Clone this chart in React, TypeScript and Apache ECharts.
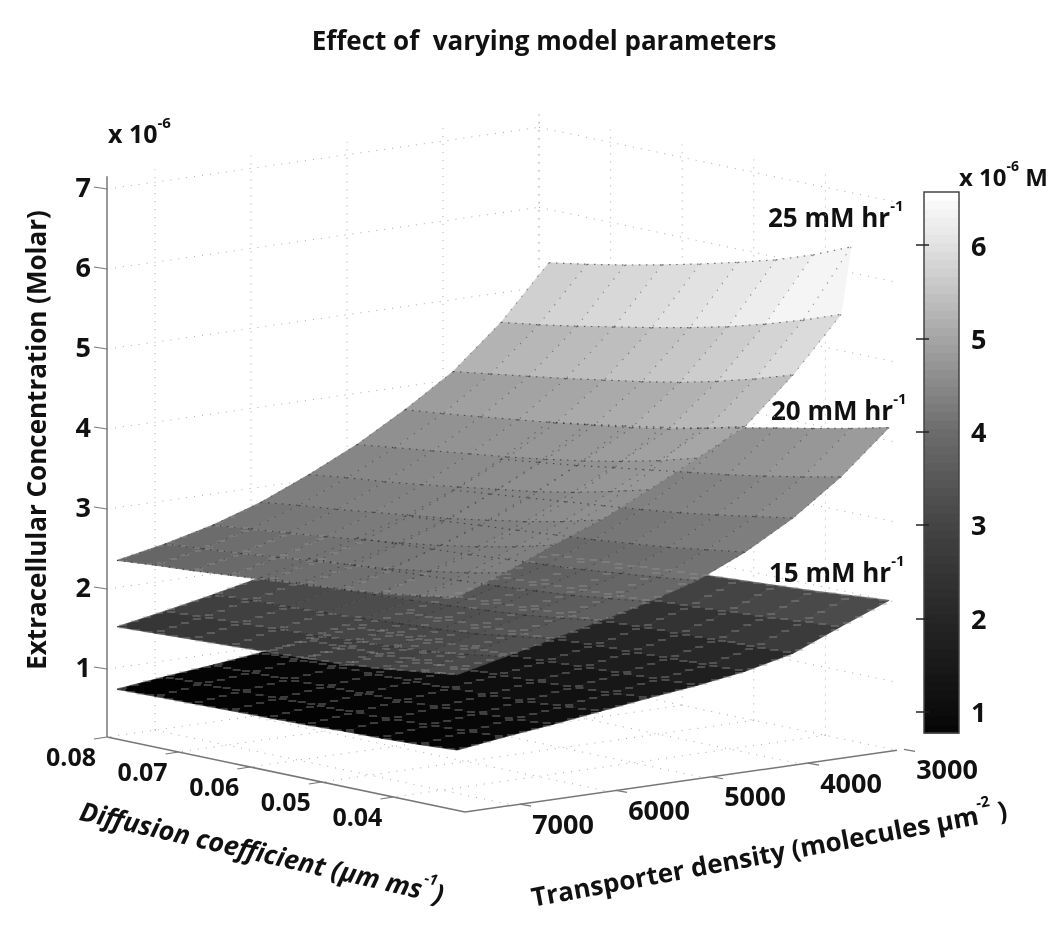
import React, { useEffect, useRef } from "react";
import * as echarts from "echarts";

// ---- data ----
const diffusionGrid = [0.08, 0.0747, 0.0694, 0.0642, 0.0589, 0.0536, 0.0483, 0.0431, 0.0378, 0.0325];
const transporterGrid = [3000, 3500, 4000, 4500, 5000, 5500, 6000, 6500, 7000, 7500];

const surface15 = [
  [1.65, 1.68, 1.71, 1.75, 1.79, 1.82, 1.85, 1.88, 1.92, 1.96],
  [1.45, 1.47, 1.49, 1.52, 1.55, 1.58, 1.61, 1.64, 1.68, 1.72],
  [1.3, 1.32, 1.34, 1.36, 1.38, 1.4, 1.42, 1.44, 1.45, 1.47],
  [1.18, 1.19, 1.21, 1.22, 1.24, 1.26, 1.28, 1.3, 1.31, 1.33],
  [1.08, 1.09, 1.1, 1.12, 1.13, 1.15, 1.17, 1.19, 1.22, 1.24],
  [1.0, 1.01, 1.02, 1.03, 1.05, 1.06, 1.08, 1.1, 1.13, 1.17],
  [0.93, 0.94, 0.95, 0.96, 0.97, 0.98, 1.0, 1.02, 1.05, 1.09],
  [0.86, 0.87, 0.88, 0.89, 0.9, 0.91, 0.93, 0.95, 0.98, 1.01],
  [0.8, 0.81, 0.82, 0.83, 0.84, 0.85, 0.87, 0.89, 0.91, 0.94],
  [0.73, 0.74, 0.75, 0.76, 0.77, 0.78, 0.8, 0.81, 0.83, 0.86],
];
const surface20 = [
  [3.3, 3.37, 3.45, 3.53, 3.62, 3.72, 3.82, 3.91, 4.01, 4.12],
  [2.92, 2.98, 3.04, 3.11, 3.18, 3.25, 3.32, 3.4, 3.49, 3.59],
  [2.62, 2.67, 2.72, 2.77, 2.82, 2.87, 2.93, 3.0, 3.08, 3.16],
  [2.38, 2.42, 2.46, 2.5, 2.54, 2.58, 2.63, 2.68, 2.75, 2.82],
  [2.19, 2.22, 2.25, 2.28, 2.32, 2.35, 2.39, 2.44, 2.49, 2.55],
  [2.02, 2.05, 2.08, 2.11, 2.14, 2.17, 2.21, 2.25, 2.31, 2.37],
  [1.87, 1.9, 1.93, 1.95, 1.98, 2.01, 2.05, 2.09, 2.15, 2.22],
  [1.74, 1.77, 1.79, 1.81, 1.84, 1.87, 1.9, 1.94, 2.01, 2.08],
  [1.62, 1.65, 1.67, 1.69, 1.71, 1.74, 1.77, 1.81, 1.87, 1.94],
  [1.51, 1.53, 1.55, 1.57, 1.59, 1.61, 1.64, 1.68, 1.74, 1.8],
];
const surface25 = [
  [5.29, 5.37, 5.46, 5.56, 5.67, 5.79, 5.92, 6.08, 6.28, null],
  [4.63, 4.7, 4.78, 4.87, 4.96, 5.06, 5.17, 5.3, 5.45, 5.62],
  [4.1, 4.17, 4.24, 4.31, 4.39, 4.47, 4.56, 4.67, 4.8, 4.95],
  [3.71, 3.76, 3.82, 3.88, 3.94, 4.01, 4.08, 4.16, 4.27, 4.39],
  [3.36, 3.42, 3.48, 3.54, 3.6, 3.67, 3.75, 3.84, 3.95, 4.08],
  [3.07, 3.13, 3.18, 3.24, 3.31, 3.38, 3.45, 3.54, 3.65, 3.77],
  [2.81, 2.87, 2.92, 2.98, 3.04, 3.1, 3.18, 3.26, 3.36, 3.48],
  [2.61, 2.66, 2.71, 2.76, 2.82, 2.88, 2.95, 3.03, 3.13, 3.25],
  [2.46, 2.5, 2.54, 2.59, 2.64, 2.69, 2.74, 2.81, 2.89, 2.99],
  [2.34, 2.38, 2.41, 2.45, 2.49, 2.53, 2.57, 2.62, 2.69, 2.77],
];
const surfaces = [surface15, surface20, surface25];

const diffusionTicks = [0.08, 0.07, 0.06, 0.05, 0.04];
const transporterTicks = [7000, 6000, 5000, 4000, 3000];
const concentrationTicks = [1, 2, 3, 4, 5, 6, 7];
const colorbarTicks = [1, 2, 3, 4, 5, 6];

// ---- box limits and view ----
const D_MAX = 0.08;
const D_MIN = 0.03;
const T_MAX = 7500;
const T_MIN = 3000;
const Z_MIN = 0.15;
const Z_MAX = 7.16;
const BAR_MIN = 0.77;
const BAR_MAX = 6.57;
const SURFACE_T0 = 7604;
const TICK_T0 = 7573;

const project = (d: number, t: number, z: number, t0 = T_MAX): [number, number] => [
  107 + (D_MAX - d) * 7160 + (t0 - t) * 0.096,
  737 + (D_MAX - d) * 1500 - (t0 - t) * 0.0137 - (z - Z_MIN) * 80,
];

const surfaceStops: [number, number][] = [
  [0.75, 0], [1, 8], [1.4, 36], [1.9, 72], [2.45, 100], [3, 122], [3.5, 136], [4.1, 154], [5, 192], [5.6, 218], [6.3, 246], [6.6, 255],
];
const barStops: [number, number][] = [
  [0.77, 4], [1, 12], [2, 38], [3, 68], [4, 108], [5, 165], [6, 225], [6.57, 255],
];
const gray = (z: number, stops: [number, number][]) => {
  let v = 255;
  for (let i = 0; i < stops.length - 1; i++) {
    const [a, ca] = stops[i];
    const [b, cb] = stops[i + 1];
    if (z <= b) {
      v = ca + ((Math.max(z, a) - a) / (b - a)) * (cb - ca);
      break;
    }
  }
  const c = Math.round(v);
  return `rgb(${c},${c},${c})`;
};

const FONT = "'Open Sans'";
const W = 700;

// ---- derived render lists ----
type Facet = { s: number; t: number; d: number };
const facets: Facet[] = [];
surfaces.forEach((sf, s) => {
  for (let t = 0; t < transporterGrid.length - 1; t++)
    for (let d = 0; d < diffusionGrid.length - 1; d++) facets.push({ s, t, d });
});

type Edge = { s: number; t1: number; d1: number; t2: number; d2: number };
const edges: Edge[] = [];
surfaces.forEach((sf, s) => {
  for (let t = 0; t < transporterGrid.length; t++)
    for (let d = 0; d < diffusionGrid.length; d++) {
      if (d < diffusionGrid.length - 1) edges.push({ s, t1: t, d1: d, t2: t, d2: d + 1 });
      if (t < transporterGrid.length - 1) edges.push({ s, t1: t, d1: d, t2: t + 1, d2: d });
    }
});

type Seg = [number, number, number, number, number, number];
const gridSegs: Seg[] = [];
concentrationTicks.forEach((z) => {
  gridSegs.push([D_MAX, T_MAX, z, D_MAX, T_MIN, z]);
  gridSegs.push([D_MAX, T_MIN, z, D_MIN, T_MIN, z]);
});
transporterTicks.forEach((t) => {
  gridSegs.push([D_MAX, t, Z_MIN, D_MAX, t, Z_MAX]);
  gridSegs.push([D_MAX, t, Z_MIN, D_MIN, t, Z_MIN]);
});
diffusionTicks.forEach((d) => {
  gridSegs.push([d, T_MIN, Z_MIN, d, T_MIN, Z_MAX]);
  gridSegs.push([d, T_MIN, Z_MIN, d, T_MAX, Z_MIN]);
});
const axisSegs: Seg[] = [
  [D_MAX, T_MAX, Z_MIN, D_MAX, T_MAX, Z_MAX],
  [D_MAX, T_MAX, Z_MIN, D_MIN, T_MAX, Z_MIN],
  [D_MIN, T_MAX, Z_MIN, D_MIN, T_MIN, Z_MIN],
];

const barLevels: number[] = [];
for (let i = 0; i < 64; i++) barLevels.push(BAR_MIN + ((BAR_MAX - BAR_MIN) * i) / 64);

const items = (n: number) => Array.from({ length: n }, (_, i) => [i, 0]);

const sup = (body: string, s: string, tail = "") => `{n|${body}}{s|${s}}${tail ? `{n|${tail}}` : ""}`;

export default function App() {
  const ref = useRef<HTMLDivElement>(null);
  useEffect(() => {
    const chart = echarts.init(ref.current!, null, { renderer: "svg" });
    const customBase = {
      type: "custom" as const,
      coordinateSystem: "cartesian2d",
      xAxisIndex: 0,
      yAxisIndex: 0,
      silent: true,
      clip: false,
      encode: { x: 0, y: 1 },
    };
    const pt = (api: any, p: [number, number]) => api.coord(p) as number[];

    const richOf = (fs: number, ss: number, style = "normal") => ({
      n: { fontFamily: FONT, fontWeight: W, fontStyle: style, fontSize: fs, fill: "#111", lineHeight: Math.round(fs * 1.5) },
      s: { fontFamily: FONT, fontWeight: W, fontStyle: style, fontSize: ss, fill: "#111", verticalAlign: "top", lineHeight: ss },
    });

    const label = (x: number, y: number, rich: string, fs: number, ss: number, rotation = 0, align = "center", style = "normal") => ({
      type: "text",
      x,
      y,
      rotation,
      style: {
        text: rich,
        align,
        verticalAlign: "middle",
        fill: "#111",
        rich: richOf(fs, ss, style),
      },
    });

    chart.setOption({
      animation: false,
      backgroundColor: "#fff",
      grid: [
        { left: 0, top: 0, width: 1050, height: 928, show: false },
        { left: 924, top: 192, width: 35, height: 541, show: true, borderColor: "#444", borderWidth: 1.5, backgroundColor: "transparent", z: 5 },
      ],
      xAxis: [
        { type: "value", gridIndex: 0, min: 0, max: 1050, show: false },
        { type: "value", gridIndex: 1, min: 0, max: 1, show: false },
      ],
      yAxis: [
        { type: "value", gridIndex: 0, min: 0, max: 928, inverse: true, show: false },
        {
          type: "value", gridIndex: 1, min: BAR_MIN, max: BAR_MAX, position: "right", z: 6,
          axisLine: { show: false }, splitLine: { show: false },
          axisTick: { show: true, inside: true, length: 8, customValues: colorbarTicks, lineStyle: { color: "#222", width: 1.5 } },
          axisLabel: { show: true, customValues: colorbarTicks, margin: 12, color: "#111", fontFamily: FONT, fontWeight: W, fontSize: 27, formatter: (v: number) => String(v) },
        },
        {
          type: "value", gridIndex: 1, min: BAR_MIN, max: BAR_MAX, position: "left", z: 6,
          axisLine: { show: false }, splitLine: { show: false },
          axisTick: { show: true, inside: true, length: 5, customValues: colorbarTicks, lineStyle: { color: "#222", width: 1.5 } },
          axisLabel: { show: false },
        },
      ],
      series: [
        // dotted walls and floor
        {
          ...customBase,
          name: "grid",
          data: items(gridSegs.length),
          renderItem: (p: any, api: any) => {
            const s = gridSegs[p.dataIndex];
            const a = pt(api, project(s[0], s[1], s[2]));
            const b = pt(api, project(s[3], s[4], s[5]));
            return {
              type: "line",
              shape: { x1: a[0], y1: a[1], x2: b[0], y2: b[1] },
              style: { stroke: "#a8a8a8", lineWidth: 1, lineDash: [1, 7] },
            };
          },
        },
        // surface facets
        {
          ...customBase,
          name: "surfaces",
          data: items(facets.length),
          renderItem: (p: any, api: any) => {
            const f = facets[p.dataIndex];
            const sf = surfaces[f.s];
            const cells: [number, number][] = [
              [f.t, f.d], [f.t, f.d + 1], [f.t + 1, f.d + 1], [f.t + 1, f.d],
            ];
            const ok = cells.filter(([t, d]) => sf[t][d] != null);
            const points = ok.map(([t, d]) =>
              pt(api, project(diffusionGrid[d], transporterGrid[t], sf[t][d] as number, SURFACE_T0)),
            );
            const shade = (sf[f.t][f.d + 1] ?? sf[f.t][f.d]) as number;
            const c = gray(shade, surfaceStops);
            return { type: "polygon", shape: { points }, style: { fill: c, stroke: c, lineWidth: 0.7 } };
          },
        },
        // surface mesh
        {
          ...customBase,
          name: "mesh",
          data: items(edges.length),
          z: 3,
          renderItem: (p: any, api: any) => {
            const e = edges[p.dataIndex];
            const sf = surfaces[e.s];
            const z1 = sf[e.t1][e.d1];
            const z2 = sf[e.t2][e.d2];
            if (z1 == null || z2 == null) return null;
            const a = pt(api, project(diffusionGrid[e.d1], transporterGrid[e.t1], z1, SURFACE_T0));
            const b = pt(api, project(diffusionGrid[e.d2], transporterGrid[e.t2], z2, SURFACE_T0));
            const mid = (z1 + z2) / 2;
            const isRow = e.t1 === e.t2;
            const children: any[] = [];
            const lightDashes = e.s === 0 || (e.s === 1 && mid < 1.85) || (e.s === 2 && mid < 2.75);
            const darkDots = e.s > 0 && !(e.s === 1 && mid < 1.7);
            if (lightDashes) {
              const len = Math.hypot(b[0] - a[0], b[1] - a[1]);
              const n = Math.max(2, Math.round(len / (isRow ? 11 : 13)));
              const stroke = e.s === 0 ? "rgba(150,150,150,0.75)" : e.s === 1 ? "rgba(165,165,165,0.65)" : "rgba(185,185,185,0.35)";
              for (let i = 0; i < n; i++) {
                const f = (i + 0.5) / n;
                const x = a[0] + (b[0] - a[0]) * f;
                const y = Math.round(a[1] + (b[1] - a[1]) * f);
                children.push({ type: "line", shape: { x1: x - 4, y1: y, x2: x + 4, y2: y }, style: { stroke, lineWidth: 1 } });
              }
            }
            if (darkDots) {
              children.push({
                type: "line",
                shape: { x1: a[0], y1: a[1], x2: b[0], y2: b[1] },
                style: isRow
                  ? { stroke: "rgba(30,30,30,0.6)", lineWidth: 1.2, lineDash: [1.5, 5.5] }
                  : { stroke: "rgba(30,30,30,0.42)", lineWidth: 1.1, lineDash: [1.5, 7] },
              });
            }
            return { type: "group", children };
          },
        },
        // axis lines
        {
          ...customBase,
          name: "axes",
          data: items(axisSegs.length),
          renderItem: (p: any, api: any) => {
            const s = axisSegs[p.dataIndex];
            const a = pt(api, project(s[0], s[1], s[2]));
            const b = pt(api, project(s[3], s[4], s[5]));
            return {
              type: "line",
              shape: { x1: a[0], y1: a[1], x2: b[0], y2: b[1] },
              style: { stroke: "#777", lineWidth: 1.5 },
            };
          },
        },
        // concentration ticks
        {
          ...customBase,
          name: "zTicks",
          data: items(concentrationTicks.length),
          renderItem: (p: any, api: any) => {
            const z = concentrationTicks[p.dataIndex];
            const a = pt(api, project(D_MAX, T_MAX, z));
            return {
              type: "group",
              children: [
                { type: "line", shape: { x1: a[0] - 13, y1: a[1] - 2, x2: a[0], y2: a[1] }, style: { stroke: "#777", lineWidth: 1.2 } },
                label(a[0] - 16, a[1] - 3, `{n|${z}}`, 27, 14, 0, "right"),
              ],
            };
          },
        },
        // diffusion ticks
        {
          ...customBase,
          name: "dTicks",
          data: items(diffusionTicks.length),
          renderItem: (p: any, api: any) => {
            const d = diffusionTicks[p.dataIndex];
            const a = pt(api, project(d, T_MAX, Z_MIN));
            return {
              type: "group",
              children: [
                { type: "line", shape: { x1: a[0] - 13, y1: a[1] + 2, x2: a[0], y2: a[1] }, style: { stroke: "#777", lineWidth: 1.2 } },
                label(a[0] - 36, a[1] + 19, `{n|${d.toFixed(2)}}`, 25, 14),
              ],
            };
          },
        },
        // transporter ticks
        {
          ...customBase,
          name: "tTicks",
          data: items(transporterTicks.length),
          renderItem: (p: any, api: any) => {
            const t = transporterTicks[p.dataIndex];
            const a = pt(api, project(D_MIN, t, Z_MIN, TICK_T0));
            return {
              type: "group",
              children: [
                { type: "line", shape: { x1: a[0] + 11, y1: a[1] + 2, x2: a[0], y2: a[1] }, style: { stroke: "#777", lineWidth: 1.2 } },
                label(a[0] + 43, a[1] + 19, `{n|${t}}`, 27, 14),
              ],
            };
          },
        },
        // colour bar bands
        {
          type: "custom",
          name: "colorbar",
          coordinateSystem: "cartesian2d",
          xAxisIndex: 1,
          yAxisIndex: 1,
          silent: true,
          encode: { x: 0, y: 1 },
          data: barLevels.map((v) => [0, v]),
          renderItem: (p: any, api: any) => {
            const v = api.value(1);
            const step = (BAR_MAX - BAR_MIN) / 64;
            const a = api.coord([0, v + step]);
            const b = api.coord([1, v]);
            const c = gray(v + step / 2, barStops);
            return {
              type: "rect",
              shape: { x: a[0], y: a[1] - 0.5, width: b[0] - a[0], height: b[1] - a[1] + 1 },
              style: { fill: c },
            };
          },
        },
      ],
      graphic: [
        { type: "group", silent: true, children: [
          { type: "text", x: 544, y: 40, style: { text: "Effect of  varying model parameters", align: "center", verticalAlign: "middle", fontFamily: FONT, fontWeight: W, fontSize: 26, fill: "#111" } },
          { ...label(36, 440, "{n|Extracellular Concentration (Molar)}", 26, 14, Math.PI / 2) },
          { ...label(262, 852, sup("Diffusion coefficient (μm ms", "-1", ")"), 26.5, 15, (-13 * Math.PI) / 180, "center", "italic") },
          { ...label(769, 853, sup("Transporter density (molecules μm", "-2", " )"), 26, 15, (10.5 * Math.PI) / 180) },
          { ...label(108, 133, sup("x 10", "-6"), 25, 15, 0, "left") },
          { ...label(959, 176, sup("x 10", "-6", " M"), 24, 14, 0, "left") },
          { ...label(768, 217, sup("25 mM hr", "-1"), 26, 15, 0, "left") },
          { ...label(771, 410, sup("20 mM hr", "-1"), 26, 15, 0, "left") },
          { ...label(769, 572, sup("15 mM hr", "-1"), 26, 15, 0, "left") },
        ] },
      ],
    });
    return () => chart.dispose();
  }, []);
  return <div ref={ref} style={{ position: "absolute", left: 0, top: 0, width: 1050, height: 928, filter: "blur(0.5px)" }} />;
}
